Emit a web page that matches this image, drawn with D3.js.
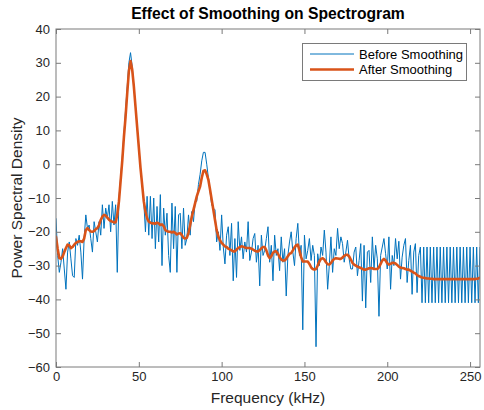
<!DOCTYPE html>
<html>
<head>
<meta charset="utf-8">
<script src="https://cdn.jsdelivr.net/npm/d3@7"></script>
<style>
  body { margin: 0; background: #fff; }
  svg { display: block; font-family: "Liberation Sans", Arial, Helvetica, sans-serif; }
</style>
</head>
<body>
<svg id="chart" width="484" height="410"></svg>
<script>
// frequency bins, 1 kHz apart
const freq = d3.range(0, 257);

// raw spectrum (dB)
const before = [
  -16, -27, -32, -29, -25, -31, -37, -26, -23, -28, -33, -33.5, -22, -24, -21, -26,
  -34, -22, -15, -19, -18, -22, -26, -17, -20, -23, -17, -21, -12, -19, -13, -16,
  -12, -20, -11, -18, -12, -32, -10, -4, 2, 9, 16, 23, 30, 33, 29, 23,
  17, 11, 5, -1, -6, -11, -20, -9.5, -21, -9.5, -22, -10, -25, -12.5, -23, -9,
  -30, -13, -21, -14.5, -27, -32, -11.5, -25, -12.5, -32, -15, -14.5, -25, -13, -24, -22,
  -15, -21, -14, -17, -11, -11, -6, -3, 1, 3.5, 3.5, 0, -4, -8, -12, -13,
  -13.5, -23, -20, -25.5, -15, -24.5, -29.5, -21, -18.5, -27, -17.5, -34.5, -22, -33.5, -17, -25.5,
  -21.5, -28, -23, -26, -17, -28.5, -26, -22, -20.5, -29, -24, -36, -21, -27, -25.5, -22,
  -18.5, -29, -24, -34.5, -21, -27, -25, -31.5, -21.5, -29, -25, -39, -27, -23, -20, -26,
  -30, -22, -17.5, -27, -24, -49, -21, -28, -25.5, -22, -28.5, -24, -27, -54, -26.5, -30,
  -24.5, -27, -19.5, -26, -37, -30, -21.5, -32, -25, -27, -19, -25, -21.5, -23.5, -29, -26,
  -22.5, -28, -31, -31, -26, -24.5, -33, -28.5, -23.5, -40.5, -24, -42.5, -26, -25.5, -35, -21.5,
  -31, -24, -28, -45, -27, -24.5, -22, -26.5, -31, -21.5, -37, -27, -30, -22, -28, -22.8,
  -34, -27.5, -24, -22, -35, -28.5, -24, -38.5, -26, -23.5, -38, -27,
  -24.5, -41, -24.5, -41, -24.5, -41, -24.5, -41, -24.5, -41, -24.5, -41, -24.5, -41, -24.5, -41,
  -24.5, -41, -24.5, -41, -24.5, -41, -24.5, -41, -24.5, -41, -24.5, -41, -24.5, -41, -24.5, -41,
  -24.5, -41, -24.5, -41, -24.5
];

// smoothed spectrum
const after = [
  -21.5, -25, -27.8, -28, -27.3, -26, -24.8, -23.8, -24, -24.8, -24.5, -23.8, -23.3, -23, -22.8, -22.8,
  -23, -22, -19.5, -18.9, -19.5, -19.9, -20, -19.8, -19.2, -18.9, -18, -16.5, -15.5, -15, -15.2, -15.8,
  -16.4, -16.8, -17, -17.2, -17.2, -15, -11, -5, 1, 8, 14, 21, 27.5, 30.5, 28, 23,
  17, 11, 5, -1, -6, -11, -14, -16, -17, -17.3, -17.5, -17.5, -17.6, -17.3, -17.5, -18,
  -17.8, -18.3, -19.5, -19.8, -20, -20, -20.2, -20, -20.3, -20.8, -20.5, -20.4, -21, -21.8, -22, -21.8,
  -20.3, -18, -15.5, -13.5, -11.5, -9.5, -8, -6.6, -4, -2, -1.8, -3, -4.6, -7.5, -10.5, -13.5,
  -16.5, -19.5, -21.4, -22.5, -23.3, -23.8, -24.3, -24.5, -25, -25.2, -25.5, -25.8, -25.8, -25.3, -24.8, -24.5,
  -24.3, -24.4, -24.6, -24.8, -24.8, -24.8, -25, -25.3, -25.6, -25.8, -25.8, -25.4, -24.9, -24.5, -24.5, -25.5,
  -27, -27.8, -27.2, -26.2, -25.8, -25.8, -26.5, -27.5, -28.2, -28.5, -28.5, -28, -27.2, -26.5, -26.3, -25.5,
  -24.6, -24, -23.8, -25.5, -27.5, -28.8, -28.8, -28.8, -28.8, -29.5, -30.5, -31, -31.2, -31, -30, -28.8,
  -28, -27.8, -28.2, -29, -29.6, -29.7, -29.2, -28.5, -28, -27.8, -27.9, -28, -28, -27.6, -27.1, -26.8,
  -26.8, -27.3, -28.2, -29.2, -29.7, -30, -30.3, -30.5, -30.7, -31, -31.2, -31.2, -31, -30.8, -30.7, -30.8,
  -31, -31, -31, -30.5, -29.5, -28.5, -28, -28.5, -29.3, -29.7, -29.5, -29.2, -29.2, -29.4, -29.8, -30.3,
  -30.6, -30.7, -30.8, -31, -31.2, -31.2, -31.5, -31.8, -32.1, -32.3, -32.8, -33.1, -33.3, -33.5, -33.6, -33.7,
  -33.8, -33.8, -33.9, -33.9, -34, -34, -34, -34, -34, -34, -34, -34, -34, -34, -34, -34,
  -34, -34, -34, -34, -34, -34, -34, -34, -34, -34, -34, -34, -34, -34, -33.9, -33.8,
  -33.6
];

const xTicks = [0, 50, 100, 150, 200, 250];
const yTicks = [-60, -50, -40, -30, -20, -10, 0, 10, 20, 30, 40];
const seriesNames = ["Before Smoothing", "After Smoothing"];

const width = 484, height = 410;
const margin = {top: 29, right: 4, bottom: 43, left: 56};
const blue = "#0072bd", orange = "#d95319", ink = "#262626";

const svg = d3.select("#chart");

const x = d3.scaleLinear().domain([0, 256]).range([margin.left, width - margin.right]);
const y = d3.scaleLinear().domain([-60, 40]).range([height - margin.bottom, margin.top]);

svg.append("clipPath").attr("id", "plot")
  .append("rect")
  .attr("x", x(0)).attr("y", y(40))
  .attr("width", x(256) - x(0)).attr("height", y(-60) - y(40));

const line = d3.line().x(d => x(d[0])).y(d => y(d[1]));

const g = svg.append("g").attr("clip-path", "url(#plot)");
g.append("path")
  .datum(freq.map((f, i) => [f, before[i]]))
  .attr("fill", "none").attr("stroke", blue).attr("stroke-width", 1)
  .attr("stroke-linejoin", "round")
  .attr("d", line);
g.append("path")
  .datum(freq.map((f, i) => [f, after[i]]))
  .attr("fill", "none").attr("stroke", orange).attr("stroke-width", 2.6)
  .attr("stroke-linejoin", "round").attr("stroke-linecap", "round")
  .attr("d", line);

// axes, ticks pointing inward on all four sides
const styleAxis = a => a
  .call(a => a.select(".domain").remove())
  .call(a => a.selectAll(".tick line").attr("stroke", "#7a7a7a"))
  .call(a => a.selectAll(".tick text").attr("fill", ink).attr("font-size", 13));

svg.append("g")
  .attr("transform", `translate(0,${y(-60)})`)
  .call(d3.axisBottom(x).tickValues(xTicks).tickSize(-5).tickPadding(5).tickFormat(d3.format("d")))
  .call(styleAxis);
svg.append("g")
  .attr("transform", `translate(0,${y(40)})`)
  .call(d3.axisTop(x).tickValues(xTicks).tickSize(-5).tickFormat(""))
  .call(styleAxis);
svg.append("g")
  .attr("transform", `translate(${x(0)},0)`)
  .call(d3.axisLeft(y).tickValues(yTicks).tickSize(-5).tickPadding(6).tickFormat(d3.format("d")))
  .call(styleAxis);
svg.append("g")
  .attr("transform", `translate(${x(256)},0)`)
  .call(d3.axisRight(y).tickValues(yTicks).tickSize(-5).tickFormat(""))
  .call(styleAxis);

svg.append("rect")
  .attr("x", x(0)).attr("y", y(40))
  .attr("width", x(256) - x(0)).attr("height", y(-60) - y(40))
  .attr("fill", "none").attr("stroke", "#7a7a7a").attr("stroke-width", 1);

// titles
svg.append("text")
  .attr("x", (x(0) + x(256)) / 2).attr("y", 19)
  .attr("text-anchor", "middle").attr("font-weight", "bold")
  .attr("font-size", 15.7).attr("fill", "#000")
  .text("Effect of Smoothing on Spectrogram");
svg.append("text")
  .attr("x", (x(0) + x(256)) / 2).attr("y", 403)
  .attr("text-anchor", "middle").attr("font-size", 15.5).attr("fill", ink)
  .text("Frequency (kHz)");
svg.append("text")
  .attr("transform", `translate(22,${(y(40) + y(-60)) / 2}) rotate(-90)`)
  .attr("text-anchor", "middle").attr("font-size", 15.5).attr("fill", ink)
  .text("Power Spectral Density");

// legend
const lg = svg.append("g").attr("transform", "translate(302,43)");
lg.append("rect")
  .attr("x", 0.5).attr("y", 0.5).attr("width", 164).attr("height", 37)
  .attr("fill", "#fff").attr("stroke", "#7a7a7a");
seriesNames.forEach((name, i) => {
  const yy = 11 + i * 15.5;
  lg.append("line")
    .attr("x1", 8).attr("x2", 52).attr("y1", yy).attr("y2", yy)
    .attr("stroke", i === 0 ? blue : orange).attr("stroke-width", i === 0 ? 1 : 2.6);
  lg.append("text")
    .attr("x", 57).attr("y", yy).attr("dy", "0.35em")
    .attr("font-size", 13).attr("fill", "#000")
    .text(name);
});
</script>
</body>
</html>
